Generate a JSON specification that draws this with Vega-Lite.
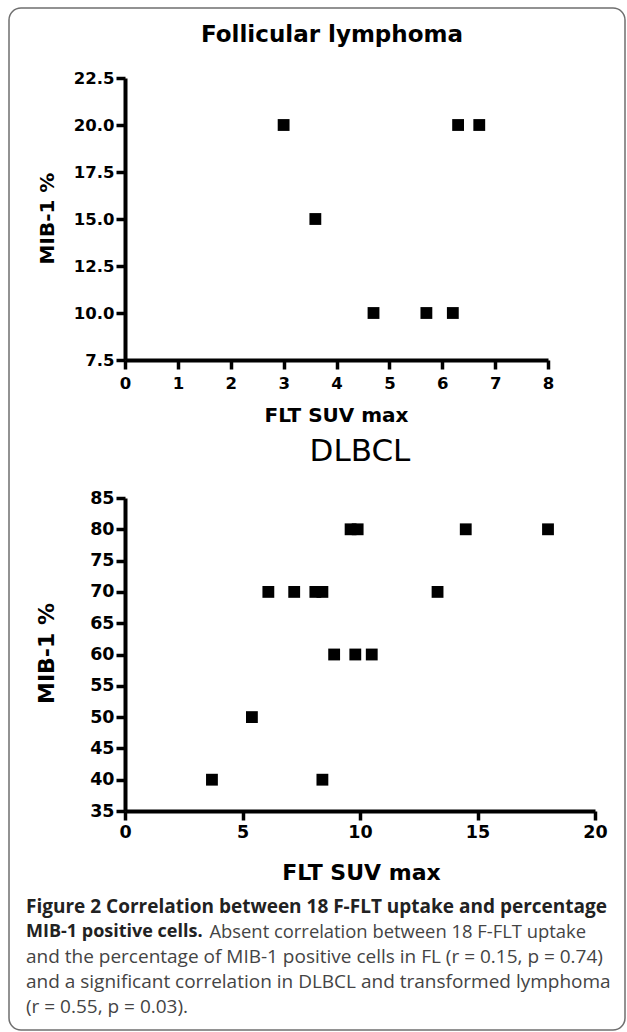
{
  "$schema": "https://vega.github.io/schema/vega-lite/v6.json",
  "width": 616,
  "height": 1022,
  "autosize": {"type": "none"},
  "padding": {"left": 9, "top": 8, "right": 2, "bottom": 2},
  "background": "white",
  "config": {
    "view": {"stroke": "#6f6f6f", "strokeWidth": 1.5, "cornerRadius": 12},
    "axis": {"grid": false, "labelOverlap": false, "labelFlush": false}
  },
  "datasets": {
    "fl": [
      {"suv": 3.0, "mib": 20},
      {"suv": 3.6, "mib": 15},
      {"suv": 4.7, "mib": 10},
      {"suv": 5.7, "mib": 10},
      {"suv": 6.2, "mib": 10},
      {"suv": 6.3, "mib": 20},
      {"suv": 6.7, "mib": 20}
    ],
    "dlbcl": [
      {"suv": 3.7, "mib": 40},
      {"suv": 5.4, "mib": 50},
      {"suv": 6.1, "mib": 70},
      {"suv": 7.2, "mib": 70},
      {"suv": 8.1, "mib": 70},
      {"suv": 8.4, "mib": 70},
      {"suv": 8.9, "mib": 60},
      {"suv": 8.4, "mib": 40},
      {"suv": 9.6, "mib": 80},
      {"suv": 9.9, "mib": 80},
      {"suv": 9.8, "mib": 60},
      {"suv": 10.5, "mib": 60},
      {"suv": 13.3, "mib": 70},
      {"suv": 14.5, "mib": 80},
      {"suv": 18.0, "mib": 80}
    ],
    "titles1": [{"label": "Follicular lymphoma"}],
    "titles2": [{"label": "DLBCL"}],
    "caption": [
      {"line": 1, "part": "bold", "text": "Figure 2 Correlation between 18 F-FLT uptake and percentage"},
      {"line": 2, "part": "lead", "text": "MIB-1 positive cells."},
      {"line": 2, "part": "tail", "text": "Absent correlation between 18 F-FLT uptake"},
      {"line": 3, "part": "plain", "text": "and the percentage of MIB-1 positive cells in FL (r = 0.15, p = 0.74)"},
      {"line": 4, "part": "plain", "text": "and a significant correlation in DLBCL and transformed lymphoma"},
      {"line": 5, "part": "plain", "text": "(r = 0.55, p = 0.03)."}
    ]
  },
  "resolve": {
    "scale": {"x": "independent", "y": "independent"},
    "axis": {"x": "independent", "y": "independent"}
  },
  "layer": [
    {
      "data": {"name": "fl"},
      "mark": {"type": "square", "size": 140, "color": "black", "opacity": 1},
      "encoding": {
        "x": {
          "field": "suv", "type": "quantitative",
          "scale": {"domain": [0, 8], "range": [116, 539], "nice": false, "zero": false},
          "axis": {"orient": "bottom", "offset": -670, "values": [0, 1, 2, 3, 4, 5, 6, 7, 8],
            "domainColor": "black", "domainWidth": 4, "tickColor": "black", "tickWidth": 3.5, "tickSize": 9,
            "labelFont": "DejaVu Sans", "labelFontWeight": "bold", "labelColor": "black", "labelFontSize": 16.5, "labelPadding": 6,
            "title": "FLT SUV max", "titleFont": "DejaVu Sans", "titleFontWeight": "bold", "titleColor": "black", "titleFontSize": 20,
            "titleAlign": "center", "titleBaseline": "middle", "titleX": 327, "titleY": 55}
        },
        "y": {
          "field": "mib", "type": "quantitative",
          "scale": {"domain": [7.5, 22.5], "range": [352, 70], "nice": false, "zero": false},
          "axis": {"orient": "left", "offset": -116, "values": [7.5, 10, 12.5, 15, 17.5, 20, 22.5], "format": ".1f",
            "domainColor": "black", "domainWidth": 4, "tickColor": "black", "tickWidth": 3.5, "tickSize": 9,
            "labelFont": "DejaVu Sans", "labelFontWeight": "bold", "labelColor": "black", "labelFontSize": 16.5, "labelPadding": 2,
            "title": "MIB-1 %", "titleFont": "DejaVu Sans", "titleFontWeight": "bold", "titleColor": "black", "titleFontSize": 20,
            "titleAngle": 270, "titleAlign": "center", "titleBaseline": "middle", "titleX": -78, "titleY": 210}
        }
      }
    },
    {
      "data": {"name": "titles1"},
      "mark": {"type": "text", "font": "DejaVu Sans", "fontWeight": "bold", "fontSize": 23, "align": "center", "baseline": "middle", "color": "black"},
      "encoding": {
        "x": {"datum": 3.915, "type": "quantitative", "scale": {"domain": [0, 8], "range": [116, 539], "nice": false, "zero": false}, "axis": null},
        "y": {"datum": 24.8, "type": "quantitative", "scale": {"domain": [7.5, 22.5], "range": [352, 70], "nice": false, "zero": false}, "axis": null},
        "text": {"field": "label"}
      }
    },
    {
      "data": {"name": "dlbcl"},
      "mark": {"type": "square", "size": 140, "color": "black", "opacity": 1},
      "encoding": {
        "x": {
          "field": "suv", "type": "quantitative",
          "scale": {"domain": [0, 20], "range": [116, 586], "nice": false, "zero": false},
          "axis": {"orient": "bottom", "offset": -219, "values": [0, 5, 10, 15, 20],
            "domainColor": "black", "domainWidth": 4, "tickColor": "black", "tickWidth": 3.5, "tickSize": 9,
            "labelFont": "DejaVu Sans", "labelFontWeight": "bold", "labelColor": "black", "labelFontSize": 17.5, "labelPadding": 3,
            "title": "FLT SUV max", "titleFont": "DejaVu Sans", "titleFontWeight": "bold", "titleColor": "black", "titleFontSize": 22,
            "titleAlign": "center", "titleBaseline": "middle", "titleX": 352, "titleY": 61}
        },
        "y": {
          "field": "mib", "type": "quantitative",
          "scale": {"domain": [35, 85], "range": [803, 490], "nice": false, "zero": false},
          "axis": {"orient": "left", "offset": -116, "values": [35, 40, 45, 50, 55, 60, 65, 70, 75, 80, 85],
            "domainColor": "black", "domainWidth": 4, "tickColor": "black", "tickWidth": 3.5, "tickSize": 9,
            "labelFont": "DejaVu Sans", "labelFontWeight": "bold", "labelColor": "black", "labelFontSize": 17.5, "labelPadding": 2,
            "title": "MIB-1 %", "titleFont": "DejaVu Sans", "titleFontWeight": "bold", "titleColor": "black", "titleFontSize": 22,
            "titleAngle": 270, "titleAlign": "center", "titleBaseline": "middle", "titleX": -79, "titleY": 645}
        }
      }
    },
    {
      "data": {"name": "titles2"},
      "mark": {"type": "text", "font": "DejaVu Sans", "fontWeight": "normal", "fontSize": 31, "align": "center", "baseline": "middle", "color": "black"},
      "encoding": {
        "x": {"datum": 10.0, "type": "quantitative", "scale": {"domain": [0, 20], "range": [116, 586], "nice": false, "zero": false}, "axis": null},
        "y": {"datum": 92.3, "type": "quantitative", "scale": {"domain": [35, 85], "range": [803, 490], "nice": false, "zero": false}, "axis": null},
        "text": {"field": "label"}
      }
    },
    {
      "data": {"name": "caption"},
      "transform": [{"filter": "datum.part === 'bold'"}],
      "mark": {"type": "text", "font": "Open Sans", "fontWeight": "bold", "fontSize": 19, "align": "left", "baseline": "middle", "color": "#222222"},
      "encoding": {
        "x": {"datum": 0, "type": "quantitative", "scale": {"domain": [0, 1], "range": [17, 577]}, "axis": null},
        "y": {"field": "line", "type": "quantitative", "scale": {"domain": [1, 5], "range": [899, 999], "nice": false, "zero": false}, "axis": null},
        "text": {"field": "text"}
      }
    },
    {
      "data": {"name": "caption"},
      "transform": [{"filter": "datum.part === 'lead'"}],
      "mark": {"type": "text", "font": "Open Sans", "fontWeight": "bold", "fontSize": 18, "align": "left", "baseline": "middle", "color": "#222222"},
      "encoding": {
        "x": {"datum": 0, "type": "quantitative", "scale": {"domain": [0, 1], "range": [17, 577]}, "axis": null},
        "y": {"field": "line", "type": "quantitative", "scale": {"domain": [1, 5], "range": [899, 999], "nice": false, "zero": false}, "axis": null},
        "text": {"field": "text"}
      }
    },
    {
      "data": {"name": "caption"},
      "transform": [{"filter": "datum.part === 'plain'"}],
      "mark": {"type": "text", "font": "Open Sans", "fontWeight": "normal", "fontSize": 19, "align": "left", "baseline": "middle", "color": "#444444"},
      "encoding": {
        "x": {"datum": 0, "type": "quantitative", "scale": {"domain": [0, 1], "range": [17, 577]}, "axis": null},
        "y": {"field": "line", "type": "quantitative", "scale": {"domain": [1, 5], "range": [899, 999], "nice": false, "zero": false}, "axis": null},
        "text": {"field": "text"}
      }
    },
    {
      "data": {"name": "caption"},
      "transform": [{"filter": "datum.part === 'tail'"}],
      "mark": {"type": "text", "font": "Open Sans", "fontWeight": "normal", "fontSize": 18.4, "align": "right", "baseline": "middle", "color": "#444444"},
      "encoding": {
        "x": {"datum": 1, "type": "quantitative", "scale": {"domain": [0, 1], "range": [17, 577]}, "axis": null},
        "y": {"field": "line", "type": "quantitative", "scale": {"domain": [1, 5], "range": [899, 999], "nice": false, "zero": false}, "axis": null},
        "text": {"field": "text"}
      }
    }
  ]
}
